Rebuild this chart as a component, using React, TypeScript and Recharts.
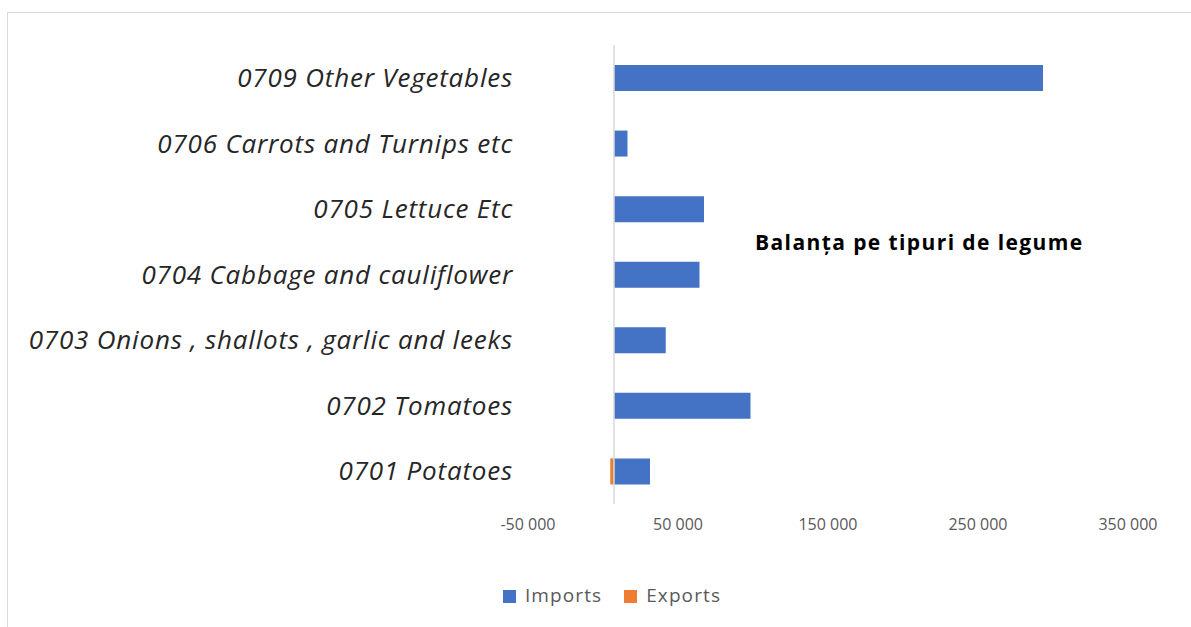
import React from 'react';
import { BarChart, Bar, XAxis, YAxis, Legend, ReferenceLine } from 'recharts';

const categories = [
  '0709 Other Vegetables',
  '0706 Carrots and Turnips etc ',
  '0705 Lettuce Etc',
  '0704 Cabbage and cauliflower ',
  '0703 Onions , shallots , garlic and leeks',
  '0702 Tomatoes',
  '0701 Potatoes',
];
const imports = [286000, 9000, 60000, 57000, 34500, 91000, 24000];
const exports = [0, 0, 0, 0, 0, 0, -2500];
const xTicks = [-50000, 50000, 150000, 250000, 350000];
const seriesOrder = ['Imports', 'Exports'];

const data = categories.map((name, i) => ({ name, Imports: imports[i], Exports: exports[i] }));

const fmt = (v: number) => {
  const s = Math.abs(v).toString().replace(/\B(?=(\d{3})+(?!\d))/g, ' ');
  return v < 0 ? '-' + s : s;
};

const font = '"Open Sans", "Liberation Sans", Arial, sans-serif';

export default function App() {
  return (
    <div style={{ position: 'absolute', left: 0, top: 0, width: 1191, height: 627, background: '#fff', overflow: 'hidden' }}>
      {/* chart area border */}
      <div style={{ position: 'absolute', left: 7, top: 12, width: 1200, height: 640, border: '1px solid #d9d9d9' }} />
      <BarChart
        width={1191}
        height={627}
        data={data}
        layout="vertical"
        stackOffset="sign"
        margin={{ top: 45, right: 52, left: 9, bottom: 57 }}
        barSize={26}
      >
        <XAxis
          type="number"
          domain={[-50000, 350000]}
          ticks={xTicks}
          tickFormatter={fmt}
          axisLine={false}
          tickLine={false}
          tickMargin={9}
          height={40}
          tick={{ fill: '#595959', fontSize: 16, fontFamily: font, dx: -11 }}
        />
        <YAxis
          type="category"
          dataKey="name"
          width={530}
          axisLine={false}
          tickLine={false}
          tickMargin={20}
          interval={0}
          tick={{ fill: '#262626', fontSize: 26, fontStyle: 'italic', fontFamily: font, letterSpacing: 0.8, dy: 0 }}
        />
        <ReferenceLine x={0} stroke="#d9d9d9" strokeWidth={1.5} />
        <Bar dataKey="Imports" stackId="a" fill="#4472C4" isAnimationActive={false} />
        <Bar dataKey="Exports" stackId="a" fill="#ED7D31" isAnimationActive={false} />
        <Legend
          verticalAlign="bottom"
          align="center"
          iconType="square"
          iconSize={13}
          itemSorter={(item: any) => seriesOrder.indexOf(item.value)}
          wrapperStyle={{ bottom: 19, left: 52, fontFamily: font, fontSize: 19 }}
          formatter={(value: string) => (
            <span style={{ color: '#595959', letterSpacing: 1.1, marginLeft: 5, marginRight: value === 'Imports' ? 12 : 0 }}>
              {value}
            </span>
          )}
        />
      </BarChart>
      <div
        style={{
          position: 'absolute',
          left: 755,
          top: 228,
          fontFamily: font,
          fontWeight: 'bold',
          fontSize: 21,
          letterSpacing: 1.4,
          lineHeight: '28px',
          color: '#000',
          whiteSpace: 'nowrap',
        }}
      >
        Balanța pe tipuri de legume
      </div>
    </div>
  );
}
